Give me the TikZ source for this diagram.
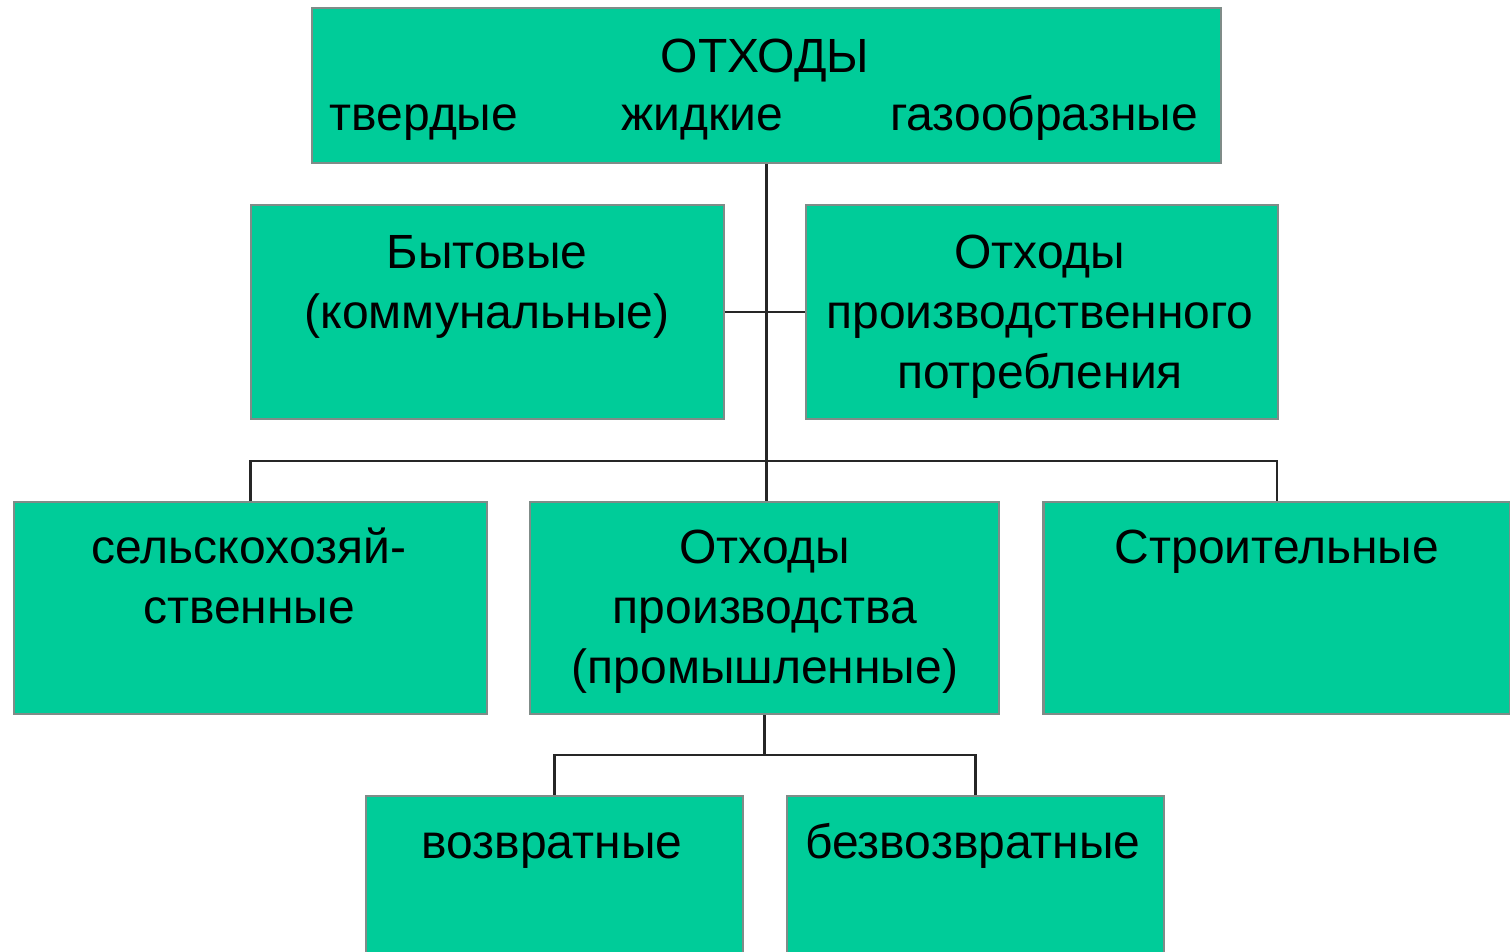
\documentclass[tikz,border=0pt]{standalone}
\usepackage{fontspec}
\setmainfont{Liberation Sans}
\definecolor{boxgreen}{HTML}{00CC99}
\definecolor{boxedge}{HTML}{7F8C88}
\begin{document}
\begin{tikzpicture}[x=1pt,y=-1pt,
  box/.style={fill=boxgreen,draw=boxedge,line width=2.5pt,inner sep=0pt,minimum width=#1},
  txt/.style={anchor=north,inner sep=0pt,align=center,font=\fontsize{48}{60}\selectfont},
  conn/.style={line width=2.5pt,black!85}]
\useasboundingbox (0,0) rectangle (1510,951);
\clip (0,0) rectangle (1510,951);
% boxes
\node[box=909pt,minimum height=155pt] (top) at (766.5,85.5) {};
\node[box=473pt,minimum height=214pt] (byt) at (487.5,312) {};
\node[box=472pt,minimum height=214pt] (potr) at (1042,312) {};
\node[box=473pt,minimum height=212pt] (selsk) at (250.5,608) {};
\node[box=469pt,minimum height=212pt] (prod) at (764.5,608) {};
\node[box=467pt,minimum height=212pt] (stroi) at (1277,608) {};
\node[box=377pt,minimum height=170pt] (vozv) at (554.5,881) {};
\node[box=377pt,minimum height=170pt] (bezv) at (975.5,881) {};
% texts
\node[txt] (t0) at (765,30) {\strut ОТХОДЫ};
\node[txt] (t1) at (424,88) {\strut твердые};
\node[txt] (t2) at (702,88) {\strut жидкие};
\node[txt] (t3) at (1044,88) {\strut газообразные};
\node[txt] (tbyt) at (487,226) {\strut Бытовые\\\strut (коммунальные)};
\node[txt] (tpotr) at (1040,226) {\strut Отходы\\\strut производственного\\\strut потребления};
\node[txt] (tselsk) at (249,521) {\strut сельскохозяй-\\\strut ственные};
\node[txt] (tprod) at (765,521) {\strut Отходы\\\strut производства\\\strut (промышленные)};
\node[txt] (tstroi) at (1277,521) {\strut Строительные};
\node[txt] (tvozv) at (552,816) {\strut возвратные};
\node[txt] (tbezv) at (973,816) {\strut безвозвратные};
% connectors
\coordinate (mid) at (top.south |- 0,461);
\coordinate (cross) at (top.south |- 0,312);
\draw[conn] (top.south) -- (mid);
\draw[conn] (byt.east) -- (potr.west);
\draw[conn] (mid) -| (selsk.north);
\draw[conn] (mid) -| (stroi.north);
\draw[conn] (mid) -- (prod.north -| mid);
\coordinate (bmid) at (prod.south |- 0,755);
\draw[conn] (prod.south) -- (bmid);
\draw[conn] (bmid) -| (vozv.north);
\draw[conn] (bmid) -| (bezv.north);
\end{tikzpicture}
\end{document}
